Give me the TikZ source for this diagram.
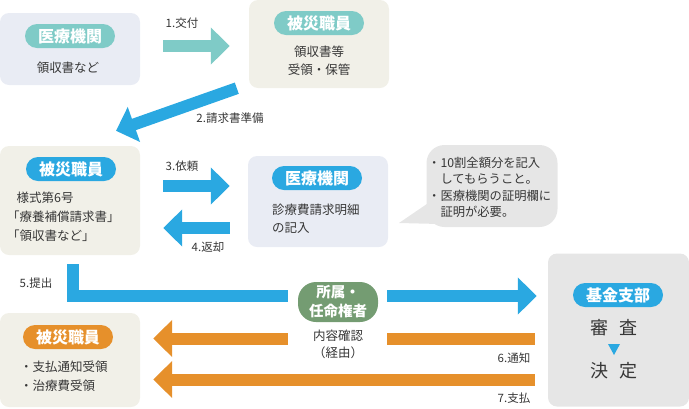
\documentclass[tikz,border=0pt]{standalone}
\usepackage{fontspec}
\setmainfont{Noto Sans CJK JP}
\usetikzlibrary{arrows.meta}
\definecolor{ink}{HTML}{363636}
\definecolor{tealc}{HTML}{7FCBC7}
\definecolor{bluec}{HTML}{2AA8E1}
\definecolor{orangec}{HTML}{E6902B}
\definecolor{greenc}{HTML}{749C72}
\definecolor{beige}{HTML}{F1F0E8}
\definecolor{paleblue}{HTML}{E9ECF4}
\definecolor{greyc}{HTML}{E6E6E6}
\begin{document}
\begin{tikzpicture}[
  x=1pt, y=-1pt,
  box/.style={rounded corners=9pt,inner sep=0pt},
  pill/.style={rounded corners=12pt,minimum width=90pt,minimum height=24pt,
    inner sep=0pt,text=white,font=\fontsize{16}{16}\selectfont\bfseries},
  body/.style={text=ink,inner sep=0pt,font=\fontsize{12.5}{19}\selectfont},
  num label/.style={text=ink,inner sep=0pt,font=\fontsize{11.5}{12}\selectfont},
  bar/.style={line width=12pt},
  arrowhead/.style={-{Triangle[length=19pt,width=36pt]}}
]
  \useasboundingbox (0,0) rectangle (689,408);

  % boxes
  \node[box,fill=paleblue,minimum width=140pt,minimum height=72pt] (medA) at (70,49) {};
  \node[box,fill=beige,minimum width=140pt,minimum height=88pt] (vicB) at (319,44) {};
  \node[box,fill=beige,minimum width=140pt,minimum height=109pt] (vicC) at (70,200.5) {};
  \node[box,fill=paleblue,minimum width=140pt,minimum height=91pt] (medD) at (318,201.5) {};
  \node[box,fill=greyc,minimum width=141pt,minimum height=153pt] (fund) at (618.5,330) {};
  \node[box,fill=beige,minimum width=140pt,minimum height=94pt] (vicF) at (70,360) {};
  \node[fill=greyc,rounded corners=18pt,minimum width=131pt,minimum height=82pt] (bub) at (492,186) {};
  \coordinate (bubtip) at (399,223);
  \fill[greyc] ([shift={(2,17)}]bub.west) -- (bubtip) -- ([shift={(13,38)}]bub.west) -- cycle;

  % labels in pills
  \node[pill,fill=tealc] (pA) at (70,36) {医療機関};
  \node[pill,fill=tealc] (pB) at (319,23) {被災職員};
  \node[pill,fill=bluec] (pC) at (71,169) {被災職員};
  \node[pill,fill=bluec] (pD) at (317,178) {医療機関};
  \node[pill,fill=bluec] (pE) at (618,295) {基金支部};
  \node[pill,fill=orangec] (pF) at (68,337) {被災職員};
  \node[pill,fill=greenc,minimum width=80pt,minimum height=40pt,rounded corners=18pt,
    align=center,font=\fontsize{14.5}{19}\selectfont\bfseries] (appt) at (338,302) {所属・\\任命権者};

  % texts
  \node[body] (tA) at (68,68) {領収書など};
  \node[body,align=center,font=\fontsize{12.5}{18}\selectfont] (tB) at (319,61) {領収書等\\受領・保管};
  \node[body,align=left,anchor=west] (tC) at (7,216.5) {\hspace{0.75em}様式第6号\\「療養補償請求書」\\「領収書など」};
  \node[body,align=left,anchor=west,font=\fontsize{12.5}{18}\selectfont] (tD) at (272,219) {診療費請求明細\\の記入};
  \node[body,align=left,anchor=west] (tF) at (20,376.5) {・支払通知受領\\・治療費受領};
  \node[body,align=left,anchor=west,font=\fontsize{12.3}{16.5}\selectfont] (tbub) at (428,187.5)
    {・10割全額分を記入\\\hspace{1em}してもらうこと。\\・医療機関の証明欄に\\\hspace{1em}証明が必要。};
  \node[body,align=center,font=\fontsize{12.5}{17}\selectfont] (check) at (338,344) {内容確認\\（経由）};
  \node[body,font=\fontsize{18}{18}\selectfont] (exam) at (614,328) {審\hspace{0.6em}査};
  \node[body,font=\fontsize{18}{18}\selectfont] (deci) at (614,371) {決\hspace{0.6em}定};
  \fill[bluec] (608,344) -- (620,344) -- (614,355) -- cycle;

  % rows of the arrows
  \coordinate (row1) at (0,46);
  \coordinate (row3) at (0,186);
  \coordinate (row4) at (0,228);
  \coordinate (row5) at (0,296);
  \coordinate (row6) at (0,338.5);
  \coordinate (row7) at (0,379.5);

  \draw[bar,arrowhead,tealc] ([xshift=23pt]medA.east |- row1) -- ([xshift=-19pt]vicB.west |- row1);
  \draw[bar,arrowhead,bluec] ([xshift=-12pt]vicB.south west) -- ([shift={(46,-15)}]vicC.north);
  \draw[bar,arrowhead,bluec] ([xshift=23pt]vicC.east |- row3) -- ([xshift=-18pt]medD.west |- row3);
  \draw[bar,arrowhead,bluec] ([xshift=-18pt]medD.west |- row4) -- ([xshift=23pt]vicC.east |- row4);
  \draw[bar,bluec] ([xshift=3pt]vicC.south) ++(0,9) |- ([xshift=-10pt]appt.west |- row5);
  \draw[bar,arrowhead,bluec] ([xshift=9pt]appt.east |- row5) -- ([xshift=-11pt]fund.west |- row5);
  \draw[bar,orangec] ([xshift=-13pt]fund.west |- row6) -- ([xshift=9pt]appt.east |- row6);
  \draw[bar,arrowhead,orangec] ([xshift=-10pt]appt.west |- row6) -- ([xshift=13pt]vicF.east |- row6);
  \draw[bar,arrowhead,orangec] ([xshift=-13pt]fund.west |- row7) -- ([xshift=13pt]vicF.east |- row7);

  \node[num label] (l1) at (182,23) {1.交付};
  \node[num label] (l2) at (230,118) {2.請求書準備};
  \node[num label] (l3) at (182,166) {3.依頼};
  \node[num label] (l4) at (208,247) {4.返却};
  \node[num label] (l5) at (36,283) {5.提出};
  \node[num label] (l6) at (514,358) {6.通知};
  \node[num label] (l7) at (514,398) {7.支払};
\end{tikzpicture}
\end{document}
